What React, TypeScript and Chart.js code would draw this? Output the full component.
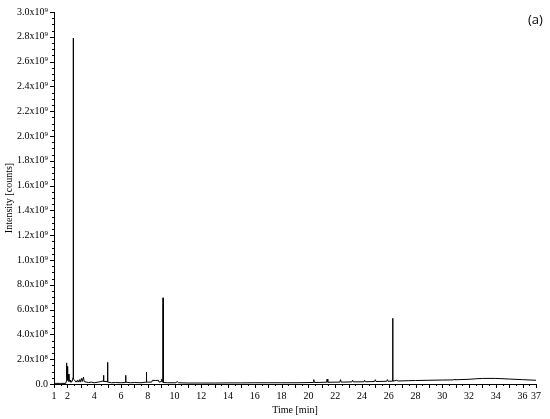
import React, { useEffect, useRef } from "react";
import { Chart, registerables } from "chart.js";

Chart.register(...registerables);

// Retention time [min]
const times: number[] = [
  1.0, 1.5, 1.88, 1.91, 1.93, 1.96, 1.99, 2.02, 2.08, 2.12, 2.2, 2.25, 2.35, 2.43, 2.44, 2.45,
  2.55, 2.65, 2.75, 2.8, 2.9, 2.95, 3.05, 3.1, 3.2, 3.25, 3.4, 3.6, 3.8, 4.0, 4.3, 4.5,
  4.68, 4.7, 4.72, 4.98, 5.0, 5.02, 5.3, 5.6, 6.0, 6.33, 6.35, 6.37, 6.7, 7.0, 7.5, 7.88,
  7.9, 7.92, 8.3, 8.35, 8.6, 8.8, 8.85, 9.0, 9.05, 9.14, 9.15, 9.16, 9.5, 10.1, 10.2, 10.3,
  11.0, 12.0, 13.0, 14.0, 15.0, 16.0, 17.0, 18.0, 19.0, 20.35, 20.4, 20.45, 21.35, 21.4, 21.45,
  22.35, 22.4, 22.45, 23.25, 23.3, 23.35, 24.15, 24.2, 24.25, 24.95, 25.0, 25.05, 25.85, 25.9, 25.95,
  26.29, 26.3, 26.31, 26.6, 26.7, 27.0, 27.5, 28.0, 29.0, 30.0, 30.85, 30.9, 30.95, 32.0,
  32.5, 33.0, 34.0, 35.0, 36.0, 37.0,
];

// Intensity in units of 1e8 counts
const intensities: number[] = [
  0.05, 0.05, 0.05, 0.2, 1.7, 0.6, 1.4, 0.3, 0.8, 0.2, 0.3, 0.15, 0.2, 0.5, 27.9, 0.4,
  0.3, 0.15, 0.3, 0.15, 0.35, 0.15, 0.45, 0.2, 0.55, 0.2, 0.15, 0.12, 0.15, 0.1, 0.15, 0.2,
  0.25, 0.7, 0.2, 0.2, 1.75, 0.15, 0.1, 0.12, 0.1, 0.12, 0.7, 0.15, 0.1, 0.12, 0.1, 0.15,
  0.95, 0.15, 0.15, 0.3, 0.28, 0.3, 0.15, 0.2, 0.4, 0.15, 6.95, 0.12, 0.1, 0.1, 0.2, 0.1,
  0.08, 0.08, 0.08, 0.09, 0.09, 0.1, 0.1, 0.1, 0.1, 0.12, 0.35, 0.12, 0.14, 0.4, 0.14,
  0.15, 0.35, 0.15, 0.17, 0.3, 0.17, 0.18, 0.3, 0.18, 0.2, 0.35, 0.2, 0.22, 0.35, 0.22,
  0.23, 5.3, 0.23, 0.3, 0.24, 0.25, 0.27, 0.28, 0.3, 0.32, 0.33, 0.4, 0.34, 0.38,
  0.42, 0.45, 0.45, 0.4, 0.35, 0.3,
];

const yMajorTicks: number[] = [0, 2, 4, 6, 8, 10, 12, 14, 16, 18, 20, 22, 24, 26, 28, 30];
const xLabelTicks: number[] = [1, 2, 4, 6, 8, 10, 12, 14, 16, 18, 20, 22, 24, 26, 28, 30, 32, 34, 36, 37];

const SUP: Record<string, string> = { "8": "\u2078", "9": "\u2079" };

function fmtY(v: number): string {
  if (Math.abs(v) < 1e-9) return "0.0";
  if (v < 10) return v.toFixed(1) + "x10" + SUP["8"];
  return (v / 10).toFixed(1) + "x10" + SUP["9"];
}

const minorTicksPlugin = {
  id: "minorTicks",
  afterDraw(chart: any) {
    const { ctx, scales, chartArea } = chart;
    const xs = scales.x;
    const ys = scales.y;
    ctx.save();
    ctx.strokeStyle = "#000";
    ctx.lineWidth = 1;
    ctx.beginPath();
    for (let i = 0; i <= 60; i++) {
      const v = i * 0.5;
      const py = Math.round(ys.getPixelForValue(v)) + 0.5;
      const len = i % 4 === 0 ? 4 : 2;
      ctx.moveTo(chartArea.left - len, py);
      ctx.lineTo(chartArea.left, py);
    }
    for (let i = 0; i <= 72; i++) {
      const t = 1 + i * 0.5;
      const px = Math.round(xs.getPixelForValue(t)) + 0.5;
      const len = i % 2 === 0 ? 4 : 2;
      ctx.moveTo(px, chartArea.bottom);
      ctx.lineTo(px, chartArea.bottom + len);
    }
    ctx.stroke();
    ctx.restore();
  },
};

export default function App() {
  const ref = useRef<HTMLCanvasElement | null>(null);

  useEffect(() => {
    if (!ref.current) return;
    const data = times.map((t, i) => ({ x: t, y: intensities[i] }));
    const font = { family: "'Liberation Serif', 'Times New Roman', serif", size: 10 };
    const chart = new Chart(ref.current, {
      type: "line",
      data: {
        datasets: [
          {
            data,
            borderColor: "#000",
            borderWidth: 1,
            pointRadius: 0,
            tension: 0,
            fill: false,
          },
        ],
      },
      options: {
        responsive: false,
        animation: false,
        events: [],
        layout: { padding: { left: 0, right: 14, top: 10, bottom: 0 } },
        plugins: { legend: { display: false }, tooltip: { enabled: false }, title: { display: false } },
        scales: {
          x: {
            type: "linear",
            min: 1,
            max: 37,
            afterFit: (s: any) => {
              s.height = 35;
            },
            afterBuildTicks: (s: any) => {
              s.ticks = xLabelTicks.map((v) => ({ value: v }));
            },
            grid: { display: false, drawTicks: false },
            border: { display: true, color: "#000", width: 1 },
            ticks: {
              autoSkip: false,
              maxRotation: 0,
              padding: 6,
              color: "#000",
              font,
              callback: (v: any) => String(v),
            },
            title: {
              display: true,
              text: "Time [min]",
              color: "#000",
              font,
              padding: { top: 0, bottom: 3 },
            },
          },
          y: {
            type: "linear",
            min: 0,
            max: 30,
            afterFit: (s: any) => {
              s.width = 54;
            },
            afterBuildTicks: (s: any) => {
              s.ticks = yMajorTicks.map((v) => ({ value: v }));
            },
            grid: { display: false, drawTicks: false },
            border: { display: true, color: "#000", width: 1 },
            ticks: {
              autoSkip: false,
              padding: 6,
              color: "#000",
              font,
              callback: (v: any) => fmtY(Number(v)),
            },
            title: {
              display: true,
              text: "Intensity [counts]",
              color: "#000",
              font,
              padding: { top: 3, bottom: 0 },
            },
          },
        },
      },
      plugins: [minorTicksPlugin],
    });
    return () => chart.destroy();
  }, []);

  return (
    <div style={{ position: "absolute", left: 0, top: 0, width: 550, height: 419, background: "#fff" }}>
      <canvas ref={ref} width={550} height={419} />
      <div
        style={{
          position: "absolute",
          left: 528,
          top: 11,
          fontFamily: "'Open Sans', 'Noto Sans', sans-serif",
          fontSize: 13,
          color: "#000",
          lineHeight: "16px",
        }}
      >
        (a)
      </div>
    </div>
  );
}
